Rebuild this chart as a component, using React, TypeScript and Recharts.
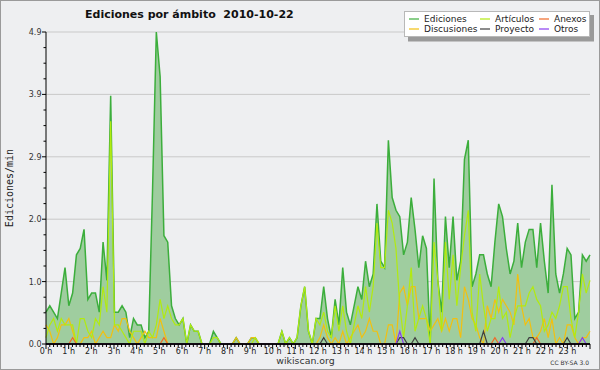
import { ComposedChart, Area, Line, XAxis, YAxis, CartesianGrid, ReferenceLine } from "recharts";

// edits per minute, one value per 10-minute slot (144 slots, 00:00 → 23:50)
const ediciones = [
  0.5, 0.6, 0.5, 0.4, 0.8, 1.2, 0.6, 0.8, 1.4, 1.5, 1.8, 0.7,
  0.8, 0.8, 0.5, 1.6, 1.0, 3.9, 0.5, 0.5, 0.6, 0.5, 0.1, 0.4,
  0.3, 0.3, 0.1, 0.2, 2.4, 4.9, 4.2, 1.7, 1.6, 0.6, 0.4, 0.3,
  0.4, 0.0, 0.3, 0.2, 0.2, 0.0, 0.0, 0.0, 0.2, 0.1, 0.0, 0.0,
  0.0, 0.0, 0.1, 0.0, 0.0, 0.0, 0.1, 0.1, 0.0, 0.0, 0.0, 0.0,
  0.0, 0.0, 0.2, 0.0, 0.1, 0.0, 0.1, 0.6, 0.9, 0.2, 0.0, 0.4,
  0.4, 0.9, 0.4, 0.1, 0.7, 0.3, 1.2, 0.5, 0.3, 0.6, 0.9, 0.7,
  1.3, 0.9, 1.1, 2.2, 1.3, 1.2, 3.2, 2.3, 2.1, 2.0, 1.4, 1.6,
  2.3, 1.8, 1.2, 1.7, 1.5, 0.0, 2.6, 1.0, 0.5, 2.0, 1.2, 2.0,
  1.0, 1.3, 2.9, 3.2, 0.9, 1.1, 1.4, 1.4, 1.1, 0.9, 1.6, 2.2,
  2.0, 1.5, 1.1, 1.3, 1.9, 1.2, 1.6, 1.8, 1.8, 1.2, 1.9, 1.3,
  0.8, 2.5, 1.1, 0.8, 1.1, 1.5, 1.4, 0.4, 0.5, 1.4, 1.3, 1.4,
];

const articulos = [
  0.1, 0.3, 0.4, 0.2, 0.4, 0.3, 0.3, 0.3, 0.0, 0.4, 0.4, 0.2,
  0.1, 0.4, 0.3, 0.9, 0.5, 3.5, 0.3, 0.3, 0.2, 0.1, 0.0, 0.2,
  0.2, 0.2, 0.0, 0.2, 0.1, 0.3, 0.7, 0.4, 0.6, 0.4, 0.3, 0.3,
  0.4, 0.0, 0.3, 0.2, 0.2, 0.0, 0.0, 0.0, 0.1, 0.1, 0.0, 0.0,
  0.0, 0.0, 0.0, 0.0, 0.0, 0.0, 0.0, 0.1, 0.0, 0.0, 0.0, 0.0,
  0.0, 0.0, 0.2, 0.0, 0.1, 0.0, 0.1, 0.6, 0.9, 0.2, 0.0, 0.4,
  0.3, 0.5, 0.2, 0.1, 0.6, 0.2, 0.6, 0.2, 0.0, 0.3, 0.6, 0.4,
  0.9, 0.5, 0.9, 1.9, 1.2, 1.2, 2.1, 1.9, 1.5, 0.6, 0.1, 0.6,
  1.2, 0.2, 0.4, 0.6, 0.4, 0.0, 1.6, 1.0, 0.2, 1.6, 0.7, 1.4,
  0.6, 1.2, 1.7, 2.1, 0.5, 0.2, 1.1, 0.6, 0.2, 0.4, 0.4, 0.9,
  0.4, 0.5, 0.1, 0.4, 0.6, 0.6, 0.6, 0.8, 0.9, 0.7, 0.6, 0.2,
  0.3, 0.5, 0.4, 0.6, 0.9, 0.9, 0.4, 0.1, 0.5, 1.1, 0.8, 1.0,
];

const discusiones = [
  0.3, 0.2, 0.0, 0.1, 0.3, 0.3, 0.4, 0.2, 0.0, 0.0, 0.1, 0.1,
  0.2, 0.0, 0.1, 0.2, 0.1, 0.1, 0.3, 0.2, 0.4, 0.4, 0.2, 0.1,
  0.0, 0.1, 0.2, 0.1, 0.1, 0.1, 0.4, 0.2, 0.0, 0.0, 0.0, 0.0,
  0.0, 0.0, 0.0, 0.0, 0.0, 0.0, 0.0, 0.0, 0.0, 0.0, 0.0, 0.0,
  0.0, 0.0, 0.1, 0.0, 0.0, 0.0, 0.1, 0.1, 0.0, 0.0, 0.0, 0.0,
  0.0, 0.0, 0.0, 0.0, 0.0, 0.0, 0.0, 0.0, 0.0, 0.0, 0.0, 0.0,
  0.1, 0.3, 0.1, 0.0, 0.1, 0.0, 0.2, 0.0, 0.1, 0.2, 0.3, 0.1,
  0.2, 0.4, 0.2, 0.2, 0.0, 0.0, 0.3, 0.3, 0.0, 0.8, 0.9, 0.6,
  0.9, 0.9, 0.4, 0.4, 0.4, 0.2, 0.3, 0.4, 0.2, 0.4, 0.2, 0.4,
  0.4, 0.1, 0.9, 0.7, 0.4, 0.3, 0.1, 0.0, 0.6, 0.4, 0.7, 0.5,
  0.7, 0.6, 0.5, 0.3, 1.1, 0.6, 0.3, 0.4, 0.1, 0.1, 0.2, 0.4,
  0.1, 0.4, 0.0, 0.1, 0.0, 0.3, 0.3, 0.1, 0.0, 0.1, 0.1, 0.2,
];

const anexos = [
  0, 0, 0, 0, 0, 0, 0, 0.1, 0, 0, 0, 0,
  0, 0, 0, 0, 0, 0, 0, 0, 0, 0, 0, 0,
  0, 0, 0, 0, 0, 0, 0, 0.1, 0, 0, 0, 0,
  0, 0, 0, 0, 0, 0, 0, 0, 0, 0, 0, 0,
  0, 0, 0, 0, 0, 0, 0, 0, 0, 0, 0, 0,
  0, 0, 0, 0, 0, 0, 0, 0, 0, 0, 0, 0,
  0, 0, 0, 0, 0, 0, 0, 0, 0, 0, 0, 0,
  0, 0, 0, 0, 0, 0, 0, 0, 0, 0, 0, 0,
  0, 0, 0, 0, 0, 0, 0, 0, 0, 0, 0, 0,
  0, 0, 0, 0, 0, 0, 0, 0, 0, 0, 0.1, 0,
  0, 0, 0, 0, 0, 0, 0, 0, 0, 0.1, 0, 0,
  0, 0, 0, 0, 0, 0, 0, 0, 0, 0, 0, 0,
];

const proyecto = [
  0, 0, 0, 0, 0, 0, 0, 0, 0, 0, 0, 0,
  0, 0, 0, 0, 0, 0, 0, 0, 0, 0, 0, 0,
  0, 0, 0, 0, 0, 0, 0, 0, 0, 0, 0, 0,
  0, 0, 0, 0, 0, 0, 0, 0, 0, 0, 0, 0,
  0, 0, 0, 0, 0, 0, 0, 0, 0, 0, 0, 0,
  0, 0, 0, 0, 0, 0, 0, 0, 0, 0, 0, 0,
  0, 0.1, 0, 0, 0, 0, 0, 0, 0, 0, 0, 0,
  0, 0, 0, 0, 0, 0, 0, 0, 0, 0.1, 0.1, 0,
  0, 0.1, 0, 0, 0, 0, 0, 0, 0, 0, 0, 0,
  0, 0, 0, 0, 0, 0, 0, 0.2, 0, 0, 0, 0,
  0, 0, 0, 0, 0, 0, 0, 0.1, 0.1, 0, 0, 0,
  0, 0, 0, 0, 0, 0.1, 0, 0, 0, 0, 0, 0,
];

const otros = [
  0, 0, 0, 0, 0, 0, 0, 0, 0, 0, 0, 0,
  0, 0, 0, 0, 0, 0, 0, 0, 0, 0, 0, 0,
  0, 0, 0, 0, 0, 0, 0, 0, 0, 0, 0, 0,
  0, 0, 0, 0, 0, 0, 0, 0, 0, 0, 0, 0,
  0, 0, 0, 0, 0, 0, 0, 0, 0, 0, 0, 0,
  0, 0, 0, 0, 0, 0, 0, 0, 0, 0, 0, 0,
  0, 0, 0, 0, 0, 0, 0, 0, 0, 0, 0, 0,
  0, 0, 0, 0, 0, 0, 0, 0, 0, 0.2, 0, 0,
  0, 0, 0, 0, 0, 0, 0, 0, 0, 0, 0, 0,
  0, 0, 0, 0, 0, 0, 0, 0, 0, 0, 0, 0,
  0.1, 0, 0, 0, 0, 0, 0, 0, 0, 0, 0, 0,
  0, 0, 0, 0, 0, 0, 0, 0, 0, 0.1, 0, 0,
];

const yMajor = [0, 0.98, 1.96, 2.94, 3.92, 4.9];

const COLORS = {
  fill: "#9fcd9f",
  ediciones: "#3cae3c",
  articulos: "#b2ea10",
  discusiones: "#f2c010",
  anexos: "#f06a28",
  proyecto: "#404040",
  otros: "#8a3cf0",
};

const LAST = ediciones.length - 1;

const data = ediciones.map((v, i) => ({
  i,
  ediciones: v,
  articulos: articulos[i],
  discusiones: discusiones[i],
  anexos: anexos[i],
  proyecto: proyecto[i],
  otros: otros[i],
}));

// hour ruler: 24 h spread over the full width, a tick every 10 minutes
const xTicks = Array.from({ length: 145 }, (_, k) => (k * LAST) / 144);
// y ruler: 3 minor ticks between each labelled value
const yTicks = Array.from({ length: 21 }, (_, k) => (4.9 * k) / 20);

const FONT = "DejaVu Sans";

function XTick(props: any) {
  const { x, y, payload } = props;
  const k = Math.round((payload.value * 144) / LAST);
  const major = k % 6 === 0;
  const h = k / 6;
  return (
    <g>
      <line x1={x} x2={x} y1={y} y2={y + (major ? 5 : 3)} stroke="#000" strokeWidth={1} />
      {major && h < 24 && (
        <text x={x} y={y + 9.5} textAnchor="middle" fontSize={8} fontFamily={FONT} fill="#222">
          {`${h} h`}
        </text>
      )}
    </g>
  );
}

function YTick(props: any) {
  const { x, y, payload } = props;
  const k = Math.round(payload.value / 0.245);
  const major = k % 4 === 0;
  return (
    <g>
      <line x1={x - (major ? 4 : 2.5)} x2={x} y1={y} y2={y} stroke="#000" strokeWidth={1} />
      {major && (
        <text x={x - 4.5} y={y + 3} textAnchor="end" fontSize={8} fontFamily={FONT} fill="#333">
          {payload.value.toFixed(1)}
        </text>
      )}
    </g>
  );
}

const legendItems = [
  { label: "Ediciones", color: COLORS.ediciones, x: 409, y: 19 },
  { label: "Artículos", color: COLORS.articulos, x: 480, y: 19 },
  { label: "Anexos", color: COLORS.anexos, x: 539, y: 19 },
  { label: "Discusiones", color: COLORS.discusiones, x: 409, y: 29 },
  { label: "Proyecto", color: COLORS.proyecto, x: 480, y: 29 },
  { label: "Otros", color: COLORS.otros, x: 539, y: 29 },
];

function Overlay() {
  return (
    <svg width={600} height={370} style={{ position: "absolute", left: 0, top: 0, pointerEvents: "none" }}>
      <rect x={0.5} y={0.5} width={599} height={369} fill="none" stroke="#9a9a9a" />
      <text x={85} y={17.5} fontSize={11} fontWeight="bold" fontFamily={FONT} fill="#111" style={{ whiteSpace: "pre" }}>
        {"Ediciones por ámbito  2010-10-22"}
      </text>
      <text
        x={13}
        y={188}
        transform="rotate(-90 13 188)"
        textAnchor="middle"
        fontSize={10}
        fontFamily="DejaVu Sans Mono"
        fill="#222"
      >
        Ediciones/min
      </text>
      <rect x={408} y={15} width={186} height={26.5} fill="#9a9a9a" />
      <rect x={404.5} y={11.5} width={185} height={25} fill="#fff" stroke="#b8b8b8" />
      {legendItems.map((it) => (
        <g key={it.label}>
          <line x1={it.x} x2={it.x + 10} y1={it.y} y2={it.y} stroke={it.color} strokeWidth={1.2} />
          <text x={it.x + 15} y={it.y + 3} fontSize={9} fontFamily={FONT} fill="#222">
            {it.label}
          </text>
        </g>
      ))}
      <text x={305.5} y={364} textAnchor="middle" fontSize={9.4} fontFamily={FONT} fill="#333">
        wikiscan.org
      </text>
      <text x={589} y={365} textAnchor="end" fontSize={6} fontFamily={FONT} fill="#333">
        CC BY-SA 3.0
      </text>
    </svg>
  );
}

export default function App() {
  return (
    <div style={{ position: "relative", width: 600, height: 370, background: "#eeeff1" }}>
      <style>{"body{margin:0}"}</style>
      <ComposedChart width={600} height={370} data={data} margin={{ top: 32, right: 10, bottom: 0, left: 0 }}>
        <CartesianGrid vertical={false} horizontalValues={yMajor} stroke="#c9c9c9" />
        <XAxis
          dataKey="i"
          type="number"
          domain={[0, LAST]}
          ticks={xTicks}
          interval={0}
          tickSize={0}
          tickMargin={0}
          tickLine={false}
          tick={XTick}
          height={26}
          axisLine={{ stroke: "#000" }}
        />
        <YAxis
          type="number"
          domain={[0, 4.9]}
          ticks={yTicks}
          interval={0}
          tickSize={0}
          tickMargin={0}
          tickLine={false}
          tick={YTick}
          width={46}
          axisLine={{ stroke: "#000" }}
        />
        <Area
          type="linear"
          dataKey="ediciones"
          stroke={COLORS.ediciones}
          strokeWidth={1.5}
          fill={COLORS.fill}
          fillOpacity={1}
          dot={false}
          activeDot={false}
          isAnimationActive={false}
        />
        <Line type="linear" dataKey="discusiones" stroke={COLORS.discusiones} strokeWidth={1.2} dot={false} activeDot={false} isAnimationActive={false} />
        <Line type="linear" dataKey="articulos" stroke={COLORS.articulos} strokeWidth={1.2} dot={false} activeDot={false} isAnimationActive={false} />
        <Line type="linear" dataKey="anexos" stroke={COLORS.anexos} strokeWidth={1.2} dot={false} activeDot={false} isAnimationActive={false} />
        <Line type="linear" dataKey="proyecto" stroke={COLORS.proyecto} strokeWidth={1.2} dot={false} activeDot={false} isAnimationActive={false} />
        <Line type="linear" dataKey="otros" stroke={COLORS.otros} strokeWidth={1.2} dot={false} activeDot={false} isAnimationActive={false} />
        <ReferenceLine y={0} stroke="#000" strokeWidth={1.5} />
      </ComposedChart>
      <Overlay />
    </div>
  );
}
